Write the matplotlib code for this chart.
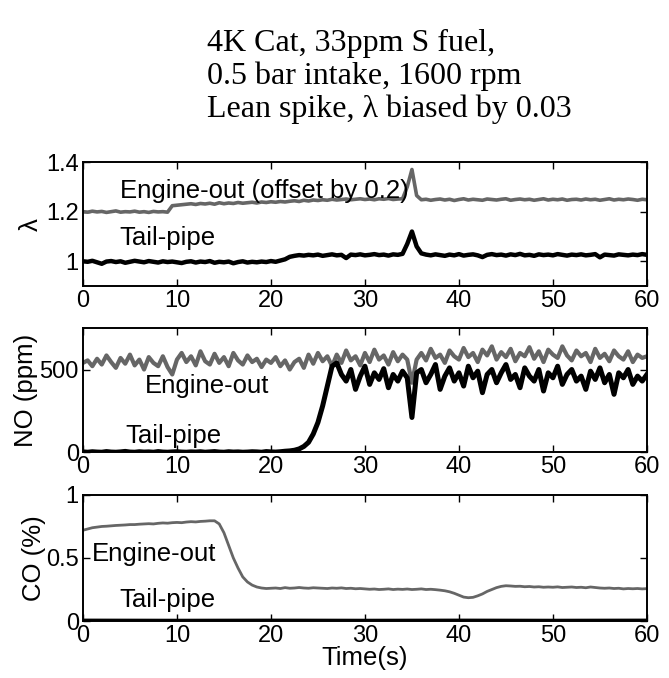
import numpy as np
import matplotlib
matplotlib.use("Agg")
import matplotlib.pyplot as plt

# Sample times (s)
time_s = np.arange(0, 60.5, 0.5)

# Lambda traces (engine-out already offset by 0.2)
lam_engine = [1.200, 1.198, 1.202, 1.199, 1.201, 1.197, 1.200, 1.203, 1.198, 1.200,
              1.199, 1.202, 1.198, 1.200, 1.197, 1.201, 1.199, 1.200, 1.198, 1.224,
              1.226, 1.228,
              1.230, 1.232, 1.229, 1.233, 1.231, 1.234, 1.230, 1.236, 1.232, 1.235, 1.233,
              1.237, 1.234, 1.236, 1.238, 1.235, 1.239, 1.237, 1.240, 1.238, 1.241, 1.239,
              1.242, 1.244, 1.241, 1.246, 1.243, 1.247, 1.245, 1.248, 1.246, 1.250, 1.247,
              1.249, 1.251, 1.248, 1.250, 1.252, 1.249, 1.251, 1.248, 1.252, 1.250, 1.253,
              1.249, 1.251, 1.252,
              1.300, 1.370, 1.265,
              1.248, 1.250, 1.246, 1.249, 1.251, 1.247, 1.250, 1.245, 1.249, 1.252, 1.247,
              1.250, 1.248, 1.246, 1.251, 1.249, 1.247, 1.250, 1.252, 1.246, 1.249, 1.251,
              1.248, 1.250, 1.246, 1.249, 1.252, 1.247, 1.250, 1.248, 1.251, 1.246, 1.249,
              1.250, 1.247, 1.251, 1.248, 1.250, 1.246, 1.249, 1.252, 1.247, 1.250, 1.248,
              1.251, 1.249, 1.246, 1.250, 1.248]
lam_tail = [1.000, 0.998, 1.002, 0.996, 0.990, 0.999, 1.001, 0.997, 1.000, 0.994,
            0.998, 1.002, 0.999, 0.996, 1.001, 0.998, 0.995, 1.000, 0.997, 0.999,
            0.996, 0.993, 0.998, 1.000, 0.995, 0.999, 0.997, 1.001, 0.994, 0.998,
            0.996, 0.999, 0.992, 0.997, 1.000, 0.995, 0.998, 0.996, 0.999, 0.997,
            1.001, 0.998, 1.003, 1.008,
            1.018, 1.022, 1.025, 1.023, 1.026, 1.024, 1.027, 1.022, 1.025, 1.028,
            1.024, 1.026, 1.013, 1.027, 1.025, 1.028, 1.024, 1.026, 1.029, 1.025,
            1.027, 1.023, 1.028, 1.026, 1.030,
            1.070, 1.120, 1.060,
            1.032, 1.027, 1.024, 1.028, 1.025, 1.022, 1.027, 1.024, 1.029, 1.023,
            1.026, 1.028, 1.024, 1.017, 1.026, 1.029, 1.025, 1.027, 1.023, 1.028,
            1.025, 1.030, 1.024, 1.026, 1.022, 1.028, 1.025, 1.027, 1.024, 1.029,
            1.026, 1.023, 1.027, 1.025, 1.028, 1.024, 1.026, 1.029, 1.016, 1.027,
            1.025, 1.023, 1.028, 1.026, 1.024, 1.027, 1.025, 1.029, 1.026]

# NO concentration (ppm)
no_engine = [540, 555, 520, 565, 530, 585, 545, 510, 570, 535, 590, 525, 560, 500, 575,
             540, 520, 580, 515, 470,
             560, 600, 545, 580, 525, 610, 550, 530, 595, 540, 575, 520, 600, 555, 530,
             585, 545, 565, 515, 560,
             540, 575, 520, 555, 500, 545, 565, 510, 590, 535, 600, 550, 580, 520,
             590, 540, 615, 555, 580, 525, 600, 545, 620, 560, 585, 530, 605, 550, 590, 560,
             420, 560,
             600, 555, 625, 570, 590, 540, 615, 580, 560, 630, 575, 600, 545, 620, 585,
             640, 560, 605, 575, 625, 550, 600, 580, 635, 565, 610, 545, 620, 590, 570,
             640, 585, 555, 615, 580, 600, 545, 625, 570, 595, 550, 615, 580, 560, 610,
             545, 590, 570, 580]
no_tail = [2, 0, 3, 1, 0, 4, 1, 0, 2, 5, 1, 0, 3, 1, 2, 0, 4, 1, 0, 2, 3, 1, 0, 2, 1,
           3, 0, 2, 4, 1, 0, 3, 1, 2, 0, 1, 3, 2, 0, 4, 2, 1, 3, 6,
           8, 12, 20, 35, 60, 110, 180, 280, 400, 520, 540,
           470, 430, 500, 380, 460, 520, 410, 480, 440, 505, 390, 470, 430, 490, 450,
           210, 480,
           500, 420, 470, 530, 380, 460, 510, 430, 480, 400, 520, 450, 490, 360, 470,
           500, 420, 480, 530, 440, 470, 390, 510, 460, 430, 500, 370, 480, 450, 520,
           410, 470, 500, 430, 460, 380, 490, 440, 510, 420, 470, 350, 480, 450, 500,
           410, 460, 430, 470]

# CO concentration (%)
co_engine = [0.72, 0.73, 0.74, 0.745, 0.75, 0.752, 0.755, 0.758, 0.76, 0.762,
             0.765, 0.765, 0.768, 0.77, 0.772, 0.77, 0.775, 0.778, 0.776, 0.78,
             0.782, 0.78, 0.785, 0.788, 0.786, 0.79, 0.792, 0.795,
             0.795, 0.77, 0.70, 0.60, 0.50, 0.42, 0.35, 0.31, 0.285, 0.27, 0.262, 0.258,
             0.26, 0.262, 0.258, 0.265, 0.26, 0.262, 0.266, 0.262, 0.26, 0.264,
             0.262, 0.26, 0.258, 0.262, 0.26, 0.263, 0.258, 0.26, 0.256, 0.258,
             0.255, 0.252, 0.254, 0.25, 0.252, 0.255, 0.25, 0.253, 0.251, 0.254,
             0.25, 0.252, 0.255, 0.25, 0.252, 0.249,
             0.245, 0.24, 0.232, 0.22, 0.205, 0.19, 0.185, 0.188, 0.2, 0.215,
             0.235, 0.25, 0.265, 0.275, 0.28, 0.278,
             0.275, 0.276, 0.272, 0.274, 0.27, 0.272, 0.268, 0.27, 0.268, 0.271,
             0.266, 0.268, 0.27, 0.266, 0.268, 0.264, 0.27, 0.266, 0.262, 0.26,
             0.262, 0.258, 0.26, 0.255, 0.258, 0.256, 0.258, 0.255, 0.257]
co_tail_time = [0, 10, 20, 30, 40, 50, 60]
co_tail = [0.004, 0.003, 0.004, 0.003, 0.004, 0.003, 0.004]

x_ticks = [0, 10, 20, 30, 40, 50, 60]
header_lines = ["4K Cat, 33ppm S fuel,",
                "0.5 bar intake, 1600 rpm",
                "Lean spike, \u03bb biased by 0.03"]

GRAY = "#666666"
SANS = ["Liberation Sans", "DejaVu Sans"]
FS_TICK = 17
FS_TEXT = 18.5

fig = plt.figure(figsize=(6.69, 6.78), dpi=100)

left, width = 0.124, 0.843
ax1 = fig.add_axes([left, 0.578, width, 0.183])
ax2 = fig.add_axes([left, 0.333, width, 0.183])
ax3 = fig.add_axes([left, 0.084, width, 0.186])

for ax in (ax1, ax2, ax3):
    ax.set_xlim(0, 60)
    ax.set_xticks(x_ticks)
    ax.tick_params(direction="in", top=True, right=True, length=5, width=1.0,
                   labelsize=FS_TICK, pad=3)
    for lab in ax.get_xticklabels():
        lab.set_family(SANS)
    for sp in ax.spines.values():
        sp.set_linewidth(1.4)

# Lambda panel
ax1.plot(time_s, lam_engine, color=GRAY, lw=2.6)
ax1.plot(time_s, lam_tail, color="black", lw=3.2)
ax1.set_ylim(0.9, 1.4)
ax1.set_yticks([1, 1.2, 1.4])
ax1.set_yticklabels(["1", "1.2", "1.4"], family=SANS, fontsize=FS_TICK)
ax1.set_ylabel("\u03bb", family=SANS, fontsize=FS_TEXT)
ax1.yaxis.set_label_coords(-0.071, 0.5)
ax1.text(3.9, 1.285, "Engine-out (offset by 0.2)", family=SANS, fontsize=FS_TEXT,
         va="center", ha="left")
ax1.text(3.9, 1.095, "Tail-pipe", family=SANS, fontsize=FS_TEXT,
         va="center", ha="left")

# NO panel
ax2.plot(time_s, no_engine, color=GRAY, lw=3.0)
ax2.plot(time_s, no_tail, color="black", lw=3.6)
ax2.set_ylim(0, 750)
ax2.set_yticks([0, 500])
ax2.set_yticklabels(["0", "500"], family=SANS, fontsize=FS_TICK)
ax2.set_ylabel("NO (ppm)", family=SANS, fontsize=FS_TEXT)
ax2.yaxis.set_label_coords(-0.080, 0.5)
ax2.text(6.6, 400, "Engine-out", family=SANS, fontsize=FS_TEXT,
         va="center", ha="left")
ax2.text(4.5, 100, "Tail-pipe", family=SANS, fontsize=FS_TEXT,
         va="center", ha="left")

# CO panel
ax3.plot(time_s, co_engine, color=GRAY, lw=2.0)
ax3.plot(co_tail_time, co_tail, color="black", lw=2.8)
ax3.set_ylim(0, 1)
ax3.set_yticks([0, 0.5, 1])
ax3.set_yticklabels(["0", "0.5", "1"], family=SANS, fontsize=FS_TICK)
ax3.set_ylabel("CO (%)", family=SANS, fontsize=FS_TEXT)
ax3.yaxis.set_label_coords(-0.066, 0.5)
ax3.set_xlabel("Time(s)", family=SANS, fontsize=FS_TEXT, labelpad=-1)
ax3.text(1.0, 0.53, "Engine-out", family=SANS, fontsize=FS_TEXT,
         va="center", ha="left")
ax3.text(3.9, 0.17, "Tail-pipe", family=SANS, fontsize=FS_TEXT,
         va="center", ha="left")

# Header text block
for i, line in enumerate(header_lines):
    fig.text(207 / 669, 1 - (43 + 33 * i) / 678, line,
             family=["Liberation Serif", "DejaVu Serif"], fontsize=23,
             ha="left", va="center")

fig.savefig("out.png", dpi=100, facecolor="white")
